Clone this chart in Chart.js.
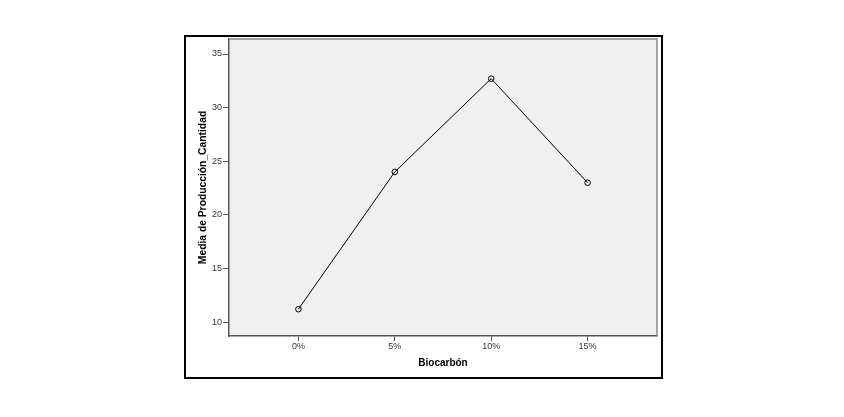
<!DOCTYPE html>
<html>
<head>
<meta charset="utf-8">
<script src="https://cdn.jsdelivr.net/npm/chart.js@4/dist/chart.umd.min.js"></script>
<style>
  html, body { margin: 0; padding: 0; background: #fff; }
  #wrap { width: 844px; height: 417px; position: relative; }
</style>
</head>
<body>
<div id="wrap"><canvas id="grafico" width="844" height="417"></canvas></div>
<script>
// datos
const categorias = ['0%', '5%', '10%', '15%'];
const medias = [11.2, 24.0, 32.7, 23.0];
const yTicks = [10, 15, 20, 25, 30, 35];

// marco exterior y fondo gris del área de trazado
const marco = {
    id: 'marco',
    beforeDraw(chart) {
        const c = chart.ctx;
        const a = chart.chartArea;
        c.save();
        c.fillStyle = '#f0f0f0';
        c.fillRect(a.left, a.top, a.right - a.left, a.bottom - a.top);
        c.strokeStyle = '#000';
        c.lineWidth = 2;
        c.strokeRect(185, 36, 477, 342);
        c.restore();
    },
    afterDraw(chart) {
        const c = chart.ctx;
        const a = chart.chartArea;
        c.save();
        c.strokeStyle = '#8a8a8a';
        c.lineWidth = 1.5;
        c.beginPath();
        c.moveTo(a.left, a.top);
        c.lineTo(a.right, a.top);
        c.lineTo(a.right, a.bottom);
        c.stroke();
        c.restore();
    }
};

const ctx = document.getElementById('grafico').getContext('2d');
new Chart(ctx, {
    type: 'line',
    data: {
        datasets: [{
            data: medias.map((v, i) => ({ x: i, y: v })),
            borderColor: '#000',
            borderWidth: 1,
            pointRadius: 2.8,
            pointBorderWidth: 1,
            pointBorderColor: '#000',
            pointBackgroundColor: 'rgba(0,0,0,0)',
            tension: 0
        }]
    },
    options: {
        responsive: false,
        animation: false,
        layout: { padding: { left: 186, top: 39, right: 187, bottom: 39 } },
        plugins: { legend: { display: false }, tooltip: { enabled: false } },
        scales: {
            x: {
                type: 'linear',
                min: -0.72,
                max: 3.72,
                afterBuildTicks: (s) => { s.ticks = categorias.map((_, i) => ({ value: i })); },
                afterFit: (s) => { s.height = 42; },
                ticks: {
                    callback: (v) => categorias[v],
                    font: { family: 'Liberation Sans', size: 9 },
                    color: '#333',
                    padding: 0,
                    maxRotation: 0
                },
                grid: { drawOnChartArea: false, drawTicks: true, tickLength: 5, color: '#555' },
                border: { color: '#555', width: 1.5 },
                title: {
                    display: true,
                    text: 'Biocarbón',
                    font: { family: 'Liberation Sans', size: 10, weight: 'bold' },
                    color: '#000',
                    padding: { top: 2, bottom: 9 }
                }
            },
            y: {
                min: 8.7,
                max: 36.4,
                afterBuildTicks: (s) => { s.ticks = yTicks.map(v => ({ value: v })); },
                afterFit: (s) => { s.width = 43; },
                ticks: {
                    font: { family: 'Liberation Sans', size: 9 },
                    color: '#333',
                    padding: 1
                },
                grid: { drawOnChartArea: false, drawTicks: true, tickLength: 6, color: '#555' },
                border: { color: '#555', width: 1.5 },
                title: {
                    display: true,
                    text: 'Media de Producción_Cantidad',
                    font: { family: 'Liberation Sans', size: 10.3, weight: 'bold' },
                    color: '#000',
                    padding: { top: 11, bottom: 0 }
                }
            }
        }
    },
    plugins: [marco]
});
</script>
</body>
</html>
